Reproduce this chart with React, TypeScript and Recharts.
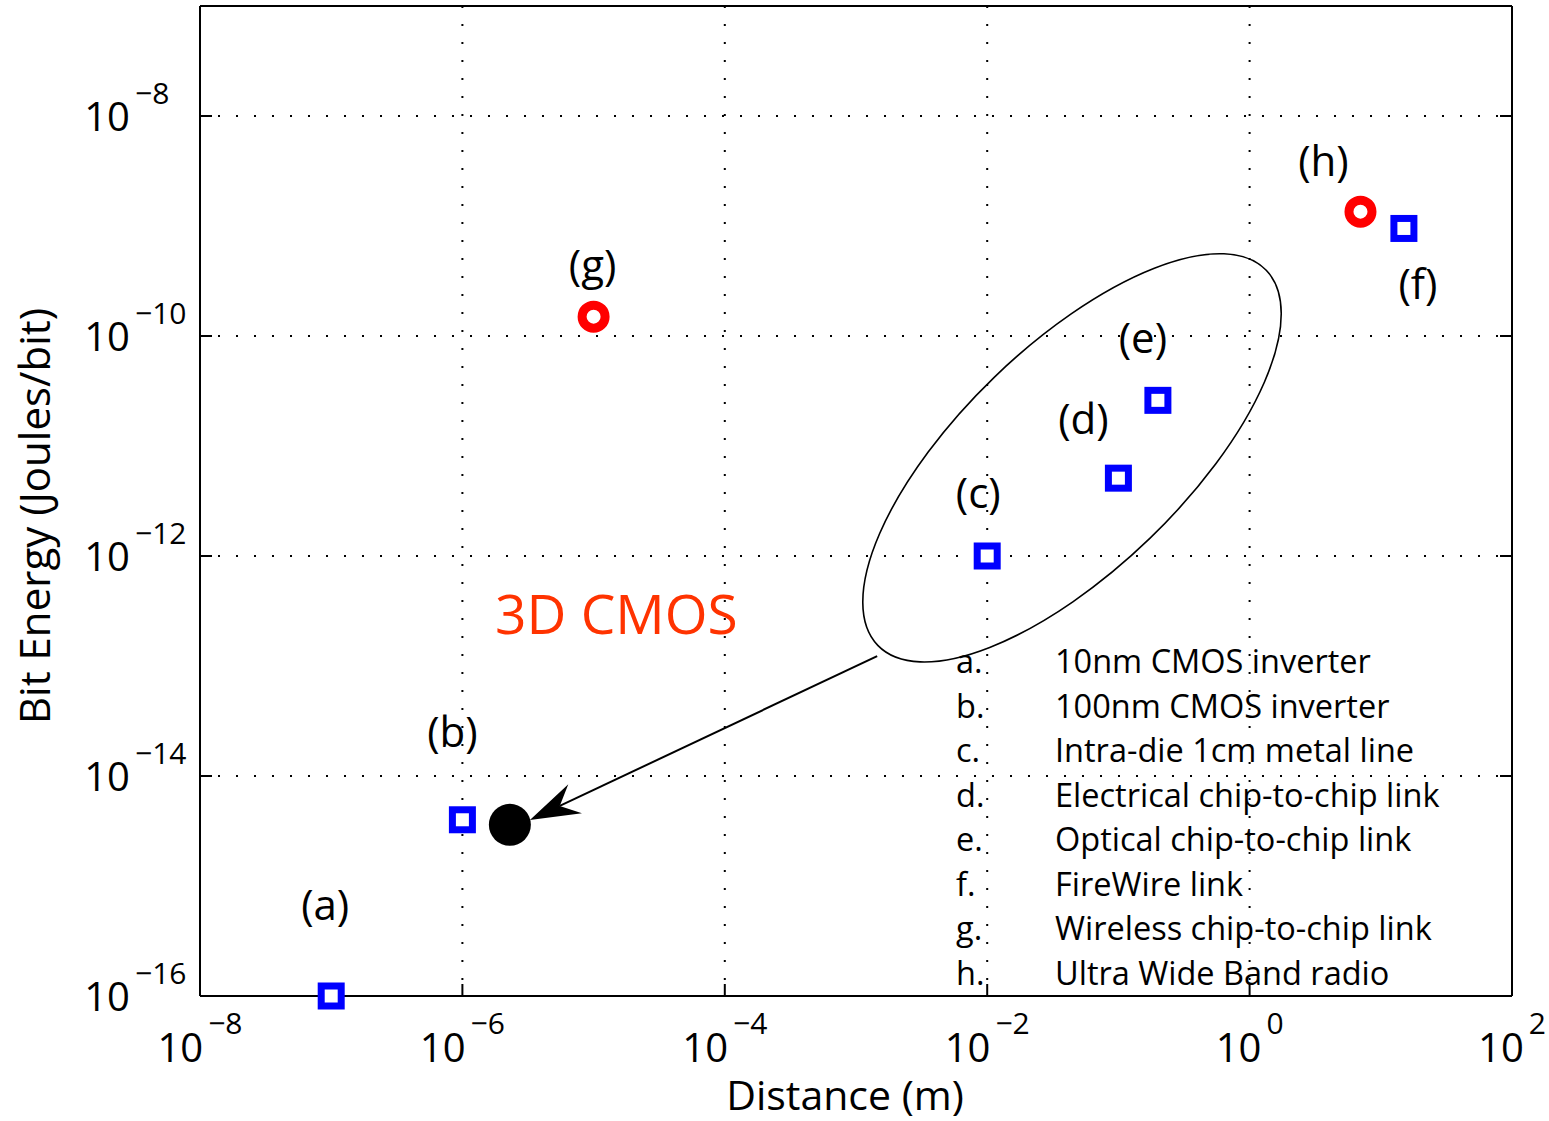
import React from "react";
import {
  CartesianGrid,
  ReferenceDot,
  ReferenceLine,
  Scatter,
  ScatterChart,
  XAxis,
  YAxis,
} from "recharts";

// points (metres, joules/bit)
const squareTags = ["a", "b", "c", "d", "e", "f"];
const squareX = [1e-7, 1e-6, 1e-2, 0.1, 0.2, 15];
const squareY = [1e-16, 4e-15, 1e-12, 5.1e-12, 2.6e-11, 9.5e-10];

const circleTags = ["g", "h"];
const circleX = [1e-5, 7];
const circleY = [1.5e-10, 1.35e-9];

const cmosX = [2.3e-6];
const cmosY = [3.6e-15];

const xTicks = [1e-8, 1e-6, 1e-4, 1e-2, 1, 100];
const yTicks = [1e-16, 1e-14, 1e-12, 1e-10, 1e-8];

const legendKeys = ["a.", "b.", "c.", "d.", "e.", "f.", "g.", "h."];
const legendNames = [
  "10nm CMOS inverter",
  "100nm CMOS inverter",
  "Intra-die 1cm metal line",
  "Electrical chip-to-chip link",
  "Optical chip-to-chip link",
  "FireWire link",
  "Wireless chip-to-chip link",
  "Ultra Wide Band radio",
];

// annotation anchors (data coords)
const ellipseCenter = { x: 0.0443, y: 7.8e-12 };
const arrowFrom = { x: 1.45e-3, y: 1.23e-13 };
const arrowTo = { x: 3.27e-6, y: 3.98e-15 };

// label offsets from each marker, px
const labelOffset: Record<string, [number, number]> = {
  a: [-6, -93],
  b: [-10, -89],
  c: [-9, -65],
  d: [-35, -61],
  e: [-15, -64],
  f: [14, 54],
  g: [-1, -53],
  h: [-37, -52],
};

const font = "'Open Sans', sans-serif";

const squares = squareX.map((x, i) => ({ x, y: squareY[i], tag: squareTags[i] }));
const circles = circleX.map((x, i) => ({ x, y: circleY[i], tag: circleTags[i] }));
const cmos = cmosX.map((x, i) => ({ x, y: cmosY[i] }));

const expText = (v: number) => {
  const e = Math.round(Math.log10(v));
  return e < 0 ? "\u2212" + Math.abs(e) : String(e);
};

const PointLabel = ({ cx, cy, tag }: any) => {
  const [dx, dy] = labelOffset[tag] ?? [0, -50];
  return (
    <text
      x={cx + dx}
      y={cy + dy}
      textAnchor="middle"
      dominantBaseline="central"
      fontSize={42}
      fontFamily={font}
      fill="#000"
    >
      ({tag})
    </text>
  );
};

const SquareMark = (props: any) => {
  const { cx, cy, payload } = props;
  return (
    <g>
      <rect x={cx - 10} y={cy - 10} width={20} height={20} fill="#fff" stroke="#0000ff" strokeWidth={7} />
      <PointLabel cx={cx} cy={cy} tag={payload.tag} />
    </g>
  );
};

const CircleMark = (props: any) => {
  const { cx, cy, payload } = props;
  return (
    <g>
      <circle cx={cx} cy={cy} r={11.5} fill="#fff" stroke="#ff0000" strokeWidth={9} />
      <PointLabel cx={cx} cy={cy} tag={payload.tag} />
    </g>
  );
};

const DotMark = ({ cx, cy }: any) => <circle cx={cx} cy={cy} r={21} fill="#000" />;

const XTick = ({ x, y, payload }: any) => (
  <g>
    <line x1={x} y1={y} x2={x} y2={y - 12} stroke="#000" strokeWidth={2} />
    <text x={x} y={y + 66} textAnchor="middle" fontSize={40} fontFamily={font} fill="#000">
      10
      <tspan dx={5} dy={-28} fontSize={30}>
        {expText(payload.value)}
      </tspan>
    </text>
  </g>
);

const YTick = ({ x, y, payload }: any) => (
  <g>
    <line x1={x} y1={y} x2={x + 12} y2={y} stroke="#000" strokeWidth={2} />
    <text x={x - 70} y={y + 15} textAnchor="end" fontSize={40} fontFamily={font} fill="#000">
      10
    </text>
    <text x={x - 65} y={y - 12} textAnchor="start" fontSize={30} fontFamily={font} fill="#000">
      {expText(payload.value)}
    </text>
  </g>
);

const TopTick = ({ x, y }: any) => (
  <line x1={x} y1={y} x2={x} y2={y + 12} stroke="#000" strokeWidth={2} />
);
const RightTick = ({ x, y }: any) => (
  <line x1={x} y1={y} x2={x - 12} y2={y} stroke="#000" strokeWidth={2} />
);

const EllipseShape = ({ cx, cy }: any) => (
  <ellipse
    cx={cx}
    cy={cy}
    rx={270}
    ry={112}
    transform={`rotate(-44 ${cx} ${cy})`}
    fill="none"
    stroke="#000"
    strokeWidth={1.6}
  />
);

const ArrowShape = ({ x1, y1, x2, y2 }: any) => {
  const dx = x2 - x1;
  const dy = y2 - y1;
  const len = Math.hypot(dx, dy) || 1;
  const ux = dx / len;
  const uy = dy / len;
  const nx = -uy;
  const ny = ux;
  const L = 50;
  const W = 16;
  const notch = 33;
  const b1 = [x2 - ux * L + nx * W, y2 - uy * L + ny * W];
  const b2 = [x2 - ux * L - nx * W, y2 - uy * L - ny * W];
  const n = [x2 - ux * notch, y2 - uy * notch];
  return (
    <g>
      <line x1={x1} y1={y1} x2={n[0]} y2={n[1]} stroke="#000" strokeWidth={2} />
      <polygon
        points={`${x2},${y2} ${b1[0]},${b1[1]} ${n[0]},${n[1]} ${b2[0]},${b2[1]}`}
        fill="#000"
      />
    </g>
  );
};

const App = () => (
  <div
    style={{
      position: "absolute",
      left: 0,
      top: 0,
      width: 1549,
      height: 1121,
      background: "#fff",
      fontFamily: font,
    }}
  >
    <ScatterChart width={1549} height={1121} margin={{ top: 5, right: 36, bottom: 0, left: 0 }}>
      <CartesianGrid
        xAxisId="b"
        yAxisId="l"
        stroke="#000"
        strokeWidth={2}
        strokeDasharray="2 16"
      />
      <XAxis
        xAxisId="b"
        dataKey="x"
        type="number"
        scale="log"
        domain={[1e-8, 100]}
        ticks={xTicks}
        interval={0}
        height={125}
        tickSize={0}
        tickMargin={0}
        tick={<XTick />}
        axisLine={{ stroke: "#000", strokeWidth: 2 }}
        label={({ viewBox }: any) => (
          <text
            x={viewBox.x + viewBox.width / 2 - 11}
            y={1110}
            textAnchor="middle"
            fontSize={41}
            fontFamily={font}
            fill="#000"
          >
            Distance (m)
          </text>
        )}
      />
      <XAxis
        xAxisId="t"
        orientation="top"
        type="number"
        scale="log"
        domain={[1e-8, 100]}
        ticks={xTicks}
        interval={0}
        allowDataOverflow
        height={1}
        tickSize={0}
        tickMargin={0}
        tick={<TopTick />}
        axisLine={{ stroke: "#000", strokeWidth: 2 }}
      />
      <YAxis
        yAxisId="l"
        dataKey="y"
        type="number"
        scale="log"
        domain={[1e-16, 1e-7]}
        ticks={yTicks}
        interval={0}
        width={200}
        tickSize={0}
        tickMargin={0}
        tick={<YTick />}
        axisLine={{ stroke: "#000", strokeWidth: 2 }}
        label={({ viewBox }: any) => (
          <text
            x={50}
            y={viewBox.y + viewBox.height / 2 + 15}
            transform={`rotate(-90 50 ${viewBox.y + viewBox.height / 2 + 15})`}
            textAnchor="middle"
            fontSize={42}
            fontFamily={font}
            fill="#000"
          >
            Bit Energy (Joules/bit)
          </text>
        )}
      />
      <YAxis
        yAxisId="r"
        orientation="right"
        type="number"
        scale="log"
        domain={[1e-16, 1e-7]}
        ticks={yTicks}
        interval={0}
        allowDataOverflow
        width={1}
        tickSize={0}
        tickMargin={0}
        tick={<RightTick />}
        axisLine={{ stroke: "#000", strokeWidth: 2 }}
      />
      <ReferenceDot
        xAxisId="b"
        yAxisId="l"
        x={ellipseCenter.x}
        y={ellipseCenter.y}
        r={1}
        shape={<EllipseShape />}
      />
      <ReferenceLine
        xAxisId="b"
        yAxisId="l"
        segment={[arrowFrom, arrowTo]}
        shape={<ArrowShape />}
      />
      <Scatter xAxisId="b" yAxisId="l" data={squares} shape={<SquareMark />} isAnimationActive={false} />
      <Scatter xAxisId="b" yAxisId="l" data={circles} shape={<CircleMark />} isAnimationActive={false} />
      <Scatter xAxisId="b" yAxisId="l" data={cmos} shape={<DotMark />} isAnimationActive={false} />
    </ScatterChart>

    <div
      style={{
        position: "absolute",
        left: 495,
        top: 580,
        fontSize: 55,
        lineHeight: "66px",
        color: "#ff3300",
        whiteSpace: "nowrap",
      }}
    >
      3D CMOS
    </div>

    <div
      style={{
        position: "absolute",
        left: 956,
        top: 639,
        fontSize: 32.5,
        lineHeight: "44.5px",
        color: "#000",
        whiteSpace: "nowrap",
      }}
    >
      {legendKeys.map((k, i) => (
        <div key={k} style={{ display: "flex" }}>
          <span style={{ width: 99, display: "inline-block" }}>{k}</span>
          <span>{legendNames[i]}</span>
        </div>
      ))}
    </div>
  </div>
);

export default App;
